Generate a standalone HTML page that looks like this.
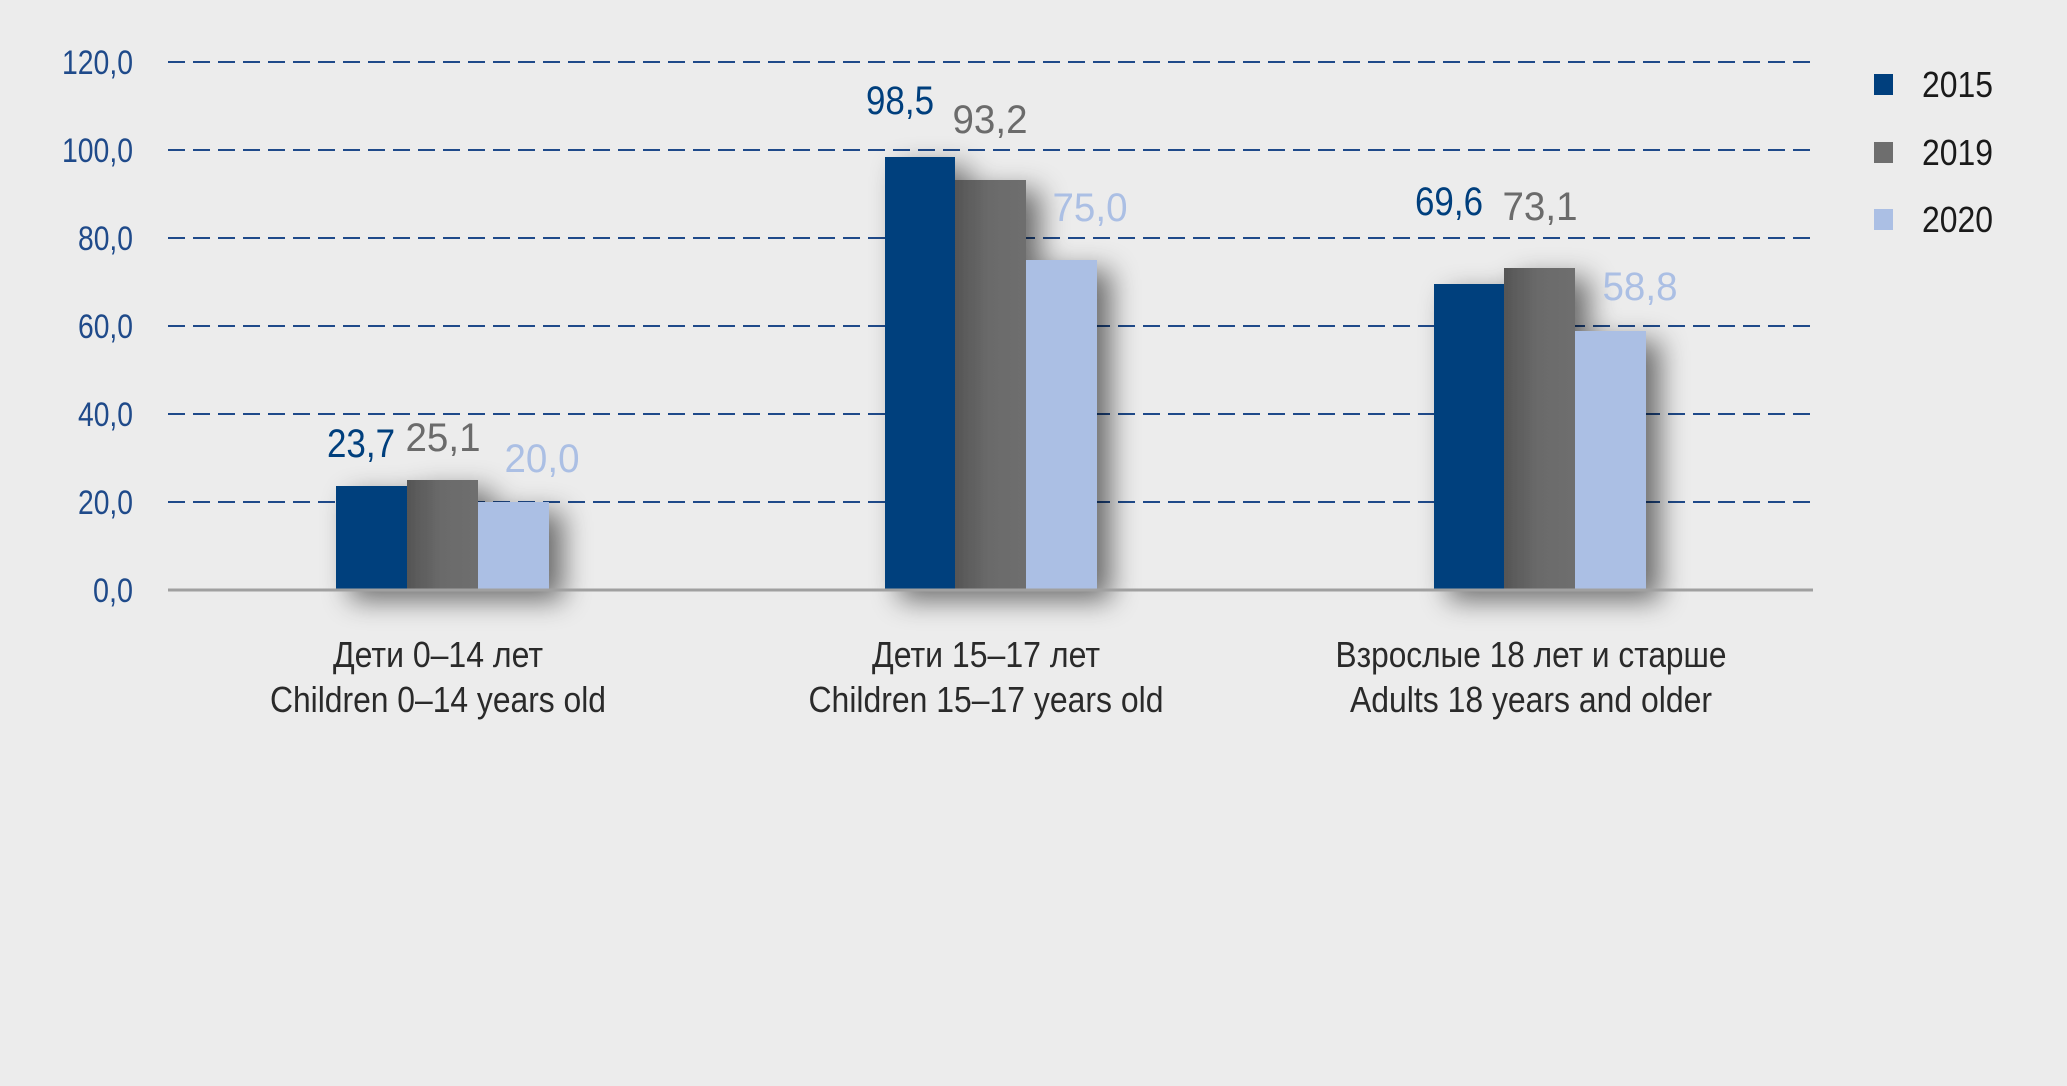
<!DOCTYPE html>
<html><head><meta charset="utf-8"><style>
html,body{margin:0;padding:0;background:#ececec;}
svg{display:block;}
text{font-family:"Liberation Sans Narrow","Liberation Sans",sans-serif;}
</style></head><body>
<svg width="2067" height="1086" viewBox="0 0 2067 1086" xmlns="http://www.w3.org/2000/svg">
<defs>
<filter id="sh" x="-30%" y="-10%" width="180%" height="130%">
<feGaussianBlur in="SourceAlpha" stdDeviation="14"/>
<feOffset dx="14" dy="10" result="b"/>
<feComponentTransfer><feFuncA type="linear" slope="0.55"/></feComponentTransfer>
<feMerge><feMergeNode/><feMergeNode in="SourceGraphic"/></feMerge>
</filter>
<linearGradient id="gg" x1="0" x2="1"><stop offset="0" stop-color="#555"/><stop offset="0.5" stop-color="#6b6b6b"/><stop offset="1" stop-color="#6e6e6e"/></linearGradient>
</defs>
<rect width="2067" height="1086" fill="#ececec"/>
<g stroke="#1f4a8a" stroke-width="2" stroke-dasharray="17 8">
<line x1="168" x2="1812" y1="62" y2="62"/>
<line x1="168" x2="1812" y1="150" y2="150"/>
<line x1="168" x2="1812" y1="238" y2="238"/>
<line x1="168" x2="1812" y1="326" y2="326"/>
<line x1="168" x2="1812" y1="414" y2="414"/>
<line x1="168" x2="1812" y1="502" y2="502"/>
</g>
<g fill="#1f4a8a" font-size="34" text-anchor="end" lengthAdjust="spacingAndGlyphs">
<text x="133" y="74" textLength="71" lengthAdjust="spacingAndGlyphs">120,0</text>
<text x="133" y="162" textLength="71" lengthAdjust="spacingAndGlyphs">100,0</text>
<text x="133" y="250" textLength="55" lengthAdjust="spacingAndGlyphs">80,0</text>
<text x="133" y="338" textLength="55" lengthAdjust="spacingAndGlyphs">60,0</text>
<text x="133" y="426" textLength="55" lengthAdjust="spacingAndGlyphs">40,0</text>
<text x="133" y="514" textLength="55" lengthAdjust="spacingAndGlyphs">20,0</text>
<text x="133" y="602" textLength="40" lengthAdjust="spacingAndGlyphs">0,0</text>
</g>
<g filter="url(#sh)">
<rect x="336" y="486" width="71" height="104" fill="#003f7d"/>
<rect x="407" y="480" width="71" height="110" fill="url(#gg)"/>
<rect x="478" y="502" width="71" height="88" fill="#abbfe4"/>
<rect x="885" y="157" width="70" height="433" fill="#003f7d"/>
<rect x="955" y="180" width="71" height="410" fill="url(#gg)"/>
<rect x="1026" y="260" width="71" height="330" fill="#abbfe4"/>
<rect x="1434" y="284" width="70" height="306" fill="#003f7d"/>
<rect x="1504" y="268" width="71" height="322" fill="url(#gg)"/>
<rect x="1575" y="331" width="71" height="259" fill="#abbfe4"/>
</g>
<line x1="168" x2="1813" y1="590" y2="590" stroke="#a0a0a0" stroke-width="3"/>
<g font-size="40" text-anchor="middle">
<text x="361" y="457" fill="#003f7d" textLength="68" lengthAdjust="spacingAndGlyphs">23,7</text>
<text x="443" y="451" fill="#6b6b6b" textLength="75" lengthAdjust="spacingAndGlyphs">25,1</text>
<text x="542" y="472" fill="#abbfe4" textLength="75" lengthAdjust="spacingAndGlyphs">20,0</text>
<text x="900" y="114" fill="#003f7d" textLength="68" lengthAdjust="spacingAndGlyphs">98,5</text>
<text x="990" y="133" fill="#6b6b6b" textLength="75" lengthAdjust="spacingAndGlyphs">93,2</text>
<text x="1090" y="221" fill="#abbfe4" textLength="75" lengthAdjust="spacingAndGlyphs">75,0</text>
<text x="1449" y="215" fill="#003f7d" textLength="68" lengthAdjust="spacingAndGlyphs">69,6</text>
<text x="1540" y="220" fill="#6b6b6b" textLength="75" lengthAdjust="spacingAndGlyphs">73,1</text>
<text x="1640" y="300" fill="#abbfe4" textLength="75" lengthAdjust="spacingAndGlyphs">58,8</text>
</g>
<rect x="1874" y="74" width="19" height="21" fill="#003f7d"/>
<rect x="1874" y="142" width="19" height="21" fill="#6e6e6e"/>
<rect x="1874" y="209" width="19" height="21" fill="#abbfe4"/>
<g font-size="36" fill="#1a1a1a">
<text x="1922" y="97" textLength="71" lengthAdjust="spacingAndGlyphs">2015</text>
<text x="1922" y="165" textLength="71" lengthAdjust="spacingAndGlyphs">2019</text>
<text x="1922" y="232" textLength="71" lengthAdjust="spacingAndGlyphs">2020</text>
</g>
<g font-size="36" fill="#2a2a2a" text-anchor="middle">
<text x="438" y="667" textLength="210" lengthAdjust="spacingAndGlyphs">Дети 0–14 лет</text>
<text x="438" y="712" textLength="336" lengthAdjust="spacingAndGlyphs">Children 0–14 years old</text>
<text x="986" y="667" textLength="228" lengthAdjust="spacingAndGlyphs">Дети 15–17 лет</text>
<text x="986" y="712" textLength="355" lengthAdjust="spacingAndGlyphs">Children 15–17 years old</text>
<text x="1531" y="667" textLength="391" lengthAdjust="spacingAndGlyphs">Взрослые 18 лет и старше</text>
<text x="1531" y="712" textLength="362" lengthAdjust="spacingAndGlyphs">Adults 18 years and older</text>
</g>
</svg>
</body></html>
